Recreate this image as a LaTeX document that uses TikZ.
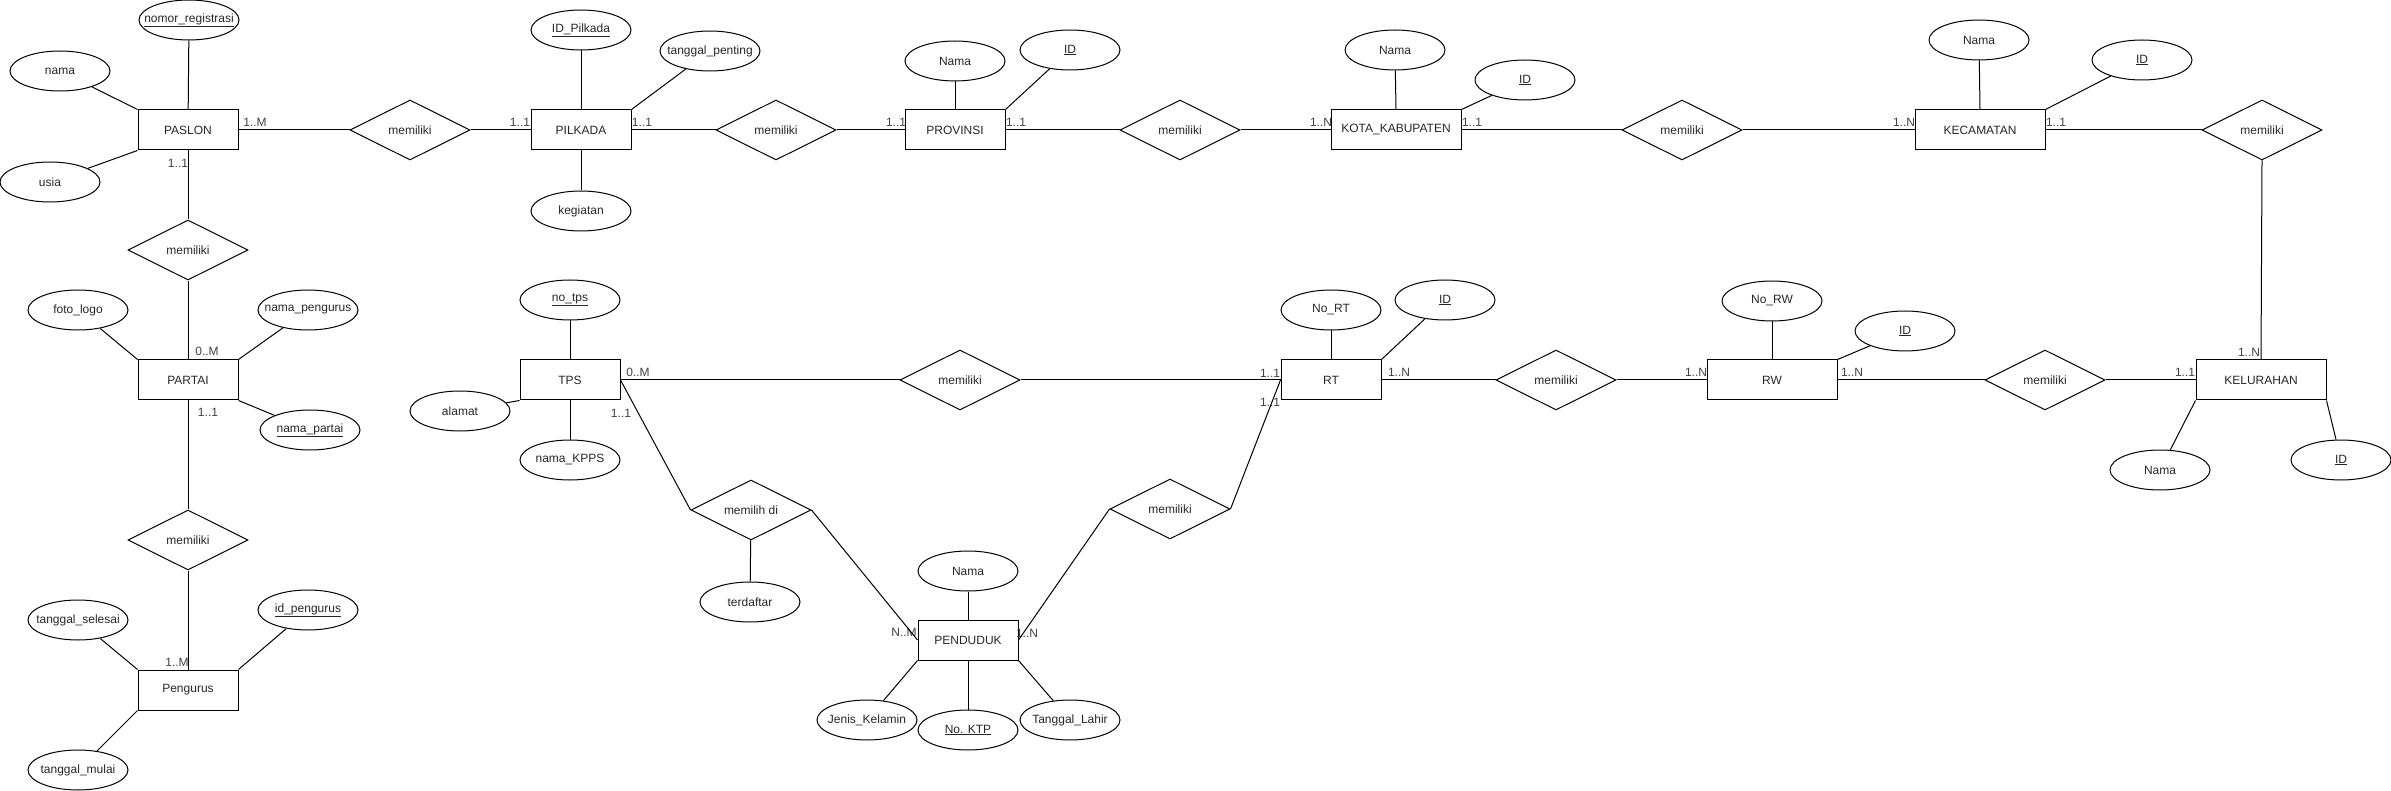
\documentclass[tikz,border=0pt]{standalone}
\usepackage{fontspec}
\setmainfont{Liberation Sans}
\usetikzlibrary{shapes.geometric}

\begin{document}
\begin{tikzpicture}[x=1pt, y=-1pt, line width=1pt, font=\fontsize{12}{14}\selectfont]
\tikzstyle{ent}=[rectangle, draw=black, minimum width=100pt, minimum height=40pt, inner sep=0pt, text=black!85]
\tikzstyle{att}=[ellipse, draw=black, minimum width=100pt, minimum height=40pt, inner xsep=-15pt, inner ysep=0pt, text=black!85]
\tikzstyle{rel}=[diamond, draw=black, aspect=2, minimum width=120pt, minimum height=60pt, inner sep=0pt, text=black!85]
\tikzstyle{card}=[inner sep=0pt, text=black!75]
\tikzstyle{connect}=[-, black]
\useasboundingbox (0,0) rectangle (2391,791);
% entitas
\node[ent] (paslon) at (188, 130) {PASLON};
\node[ent] (pilkada) at (581, 130) {PILKADA};
\node[ent] (prov) at (955, 130) {PROVINSI};
\node[ent, minimum width=130pt] (kota) at (1396, 130) {KOTA\_KABUPATEN};
\node[ent, minimum width=130pt] (kec) at (1980, 130) {KECAMATAN};
\node[ent] (partai) at (188, 380) {PARTAI};
\node[ent] (pgrs) at (188, 690) {Pengurus};
\node[ent] (tps) at (570, 380) {TPS};
\node[ent] (rt) at (1331, 380) {RT};
\node[ent, minimum width=130pt] (rw) at (1772, 380) {RW};
\node[ent, minimum width=130pt] (kel) at (2261, 380) {KELURAHAN};
\node[ent] (pend) at (968, 640) {PENDUDUK};
% relasi
\node[rel] (m1) at (410, 130) {memiliki};
\node[rel] (m2) at (776, 130) {memiliki};
\node[rel] (m3) at (1180, 130) {memiliki};
\node[rel] (m4) at (1682, 130) {memiliki};
\node[rel] (m5) at (2262, 130) {memiliki};
\node[rel] (m6) at (188, 250) {memiliki};
\node[rel] (m7) at (188, 540) {memiliki};
\node[rel] (m8) at (960, 380) {memiliki};
\node[rel] (m9) at (1556, 380) {memiliki};
\node[rel] (m10) at (2045, 380) {memiliki};
\node[rel] (m11) at (751, 510) {memilih di};
\node[rel] (m12) at (1170, 509) {memiliki};
% atribut
\node[att] (noreg) at (189, 20) {\underline{nomor\_registrasi}};
\node[att] (nama) at (60, 71) {nama};
\node[att] (usia) at (50, 182) {usia};
\node[att] (idpil) at (581, 30) {\underline{ID\_Pilkada}};
\node[att] (tglpen) at (710, 51) {tanggal\_penting};
\node[att] (keg) at (581, 211) {kegiatan};
\node[att] (pnama) at (955, 61) {Nama};
\node[att] (pid) at (1070, 50) {\underline{ID}};
\node[att] (knama) at (1395, 50) {Nama};
\node[att] (kid) at (1525, 80) {\underline{ID}};
\node[att] (cnama) at (1979, 40) {Nama};
\node[att] (cid) at (2142, 60) {\underline{ID}};
\node[att] (logo) at (78, 310) {foto\_logo};
\node[att] (npgrs) at (308, 310) {nama\_pengurus};
\node[att] (npartai) at (310, 430) {\underline{nama\_partai}};
\node[att] (tglsel) at (78, 620) {tanggal\_selesai};
\node[att] (idpgrs) at (308, 610) {\underline{id\_pengurus}};
\node[att] (tglmul) at (78, 770) {tanggal\_mulai};
\node[att] (notps) at (570, 300) {\underline{no\_tps}};
\node[att] (alamat) at (460, 411) {alamat};
\node[att] (kpps) at (570, 460) {nama\_KPPS};
\node[att] (terdaftar) at (750, 602) {terdaftar};
\node[att] (dnama) at (968, 571) {Nama};
\node[att] (jk) at (867, 720) {Jenis\_Kelamin};
\node[att] (ktp) at (968, 730) {\underline{No. KTP}};
\node[att] (tgllhr) at (1070, 720) {Tanggal\_Lahir};
\node[att] (nort) at (1331, 310) {No\_RT};
\node[att] (rtid) at (1445, 300) {\underline{ID}};
\node[att] (norw) at (1772, 301) {No\_RW};
\node[att] (rwid) at (1905, 331) {\underline{ID}};
\node[att] (lnama) at (2160, 470) {Nama};
\node[att] (lid) at (2341, 460) {\underline{ID}};
% kardinalitas
\node[card] (c1) at (255, 122) {1..M};
\node[card] (c2) at (520, 122) {1..1};
\node[card] (c3) at (642, 122) {1..1};
\node[card] (c4) at (896, 122) {1..1};
\node[card] (c5) at (1016, 122) {1..1};
\node[card] (c6) at (1321, 122) {1..N};
\node[card] (c7) at (1472, 122) {1..1};
\node[card] (c8) at (1904, 122) {1..N};
\node[card] (c9) at (2056, 122) {1..1};
\node[card] (c10) at (178, 163) {1..1};
\node[card] (c11) at (207, 351) {0..M};
\node[card] (c12) at (208, 412) {1..1};
\node[card] (c13) at (177, 662) {1..M};
\node[card] (c14) at (638, 372) {0..M};
\node[card] (c15) at (621, 413) {1..1};
\node[card] (c16) at (1270, 373) {1..1};
\node[card] (c17) at (1270, 402) {1..1};
\node[card] (c18) at (1399, 372) {1..N};
\node[card] (c19) at (1696, 372) {1..N};
\node[card] (c20) at (1852, 372) {1..N};
\node[card] (c21) at (2185, 372) {1..1};
\node[card] (c22) at (2249, 352) {1..N};
\node[card] (c23) at (904, 632) {N..M};
\node[card] (c24) at (1027, 633) {1..N};
% garis relasi
\path (paslon) edge [connect] (m1);
\path (m1) edge [connect] (pilkada);
\path (pilkada) edge [connect] (m2);
\path (m2) edge [connect] (prov);
\path (prov) edge [connect] (m3);
\path (m3) edge [connect] (kota);
\path (kota) edge [connect] (m4);
\path (m4) edge [connect] (kec);
\path (kec) edge [connect] (m5);
\path (m5.south) edge [connect] (kel.north);
\path (paslon) edge [connect] (m6);
\path (m6) edge [connect] (partai);
\path (partai) edge [connect] (m7);
\path (m7) edge [connect] (pgrs);
\path (tps.east) edge [connect] (m8.west);
\path (m8.east) edge [connect] (rt.west);
\path (tps.east) edge [connect] (m11.west);
\path (m11.east) edge [connect] (pend.west);
\path (pend.east) edge [connect] (m12.west);
\path (m12.east) edge [connect] (rt.west);
\path (rt) edge [connect] (m9);
\path (m9) edge [connect] (rw);
\path (rw) edge [connect] (m10);
\path (m10) edge [connect] (kel);
% garis atribut
\path (noreg) edge [connect] (paslon);
\path (nama) edge [connect] (paslon.north west);
\path (usia) edge [connect] (paslon.south west);
\path (idpil) edge [connect] (pilkada);
\path (tglpen) edge [connect] (pilkada.north east);
\path (keg) edge [connect] (pilkada);
\path (pnama) edge [connect] (prov);
\path (pid) edge [connect] (prov.north east);
\path (knama) edge [connect] (kota.north);
\path (kid) edge [connect] (kota.north east);
\path (cnama) edge [connect] (kec.north);
\path (cid) edge [connect] (kec.north east);
\path (logo) edge [connect] (partai.north west);
\path (npgrs) edge [connect] (partai.north east);
\path (partai.south east) edge [connect] (npartai);
\path (tglsel) edge [connect] (pgrs.north west);
\path (idpgrs) edge [connect] (pgrs.north east);
\path (tglmul) edge [connect] (pgrs.south west);
\path (notps) edge [connect] (tps);
\path (alamat) edge [connect] (tps.south west);
\path (tps) edge [connect] (kpps);
\path (m11) edge [connect] (terdaftar);
\path (dnama) edge [connect] (pend);
\path (jk) edge [connect] (pend.south west);
\path (ktp) edge [connect] (pend);
\path (tgllhr) edge [connect] (pend.south east);
\path (nort) edge [connect] (rt);
\path (rtid) edge [connect] (rt.north east);
\path (norw) edge [connect] (rw);
\path (rwid) edge [connect] (rw.north east);
\path (lnama) edge [connect] (kel.south west);
\path (lid) edge [connect] (kel.south east);
\end{tikzpicture}
\end{document}
